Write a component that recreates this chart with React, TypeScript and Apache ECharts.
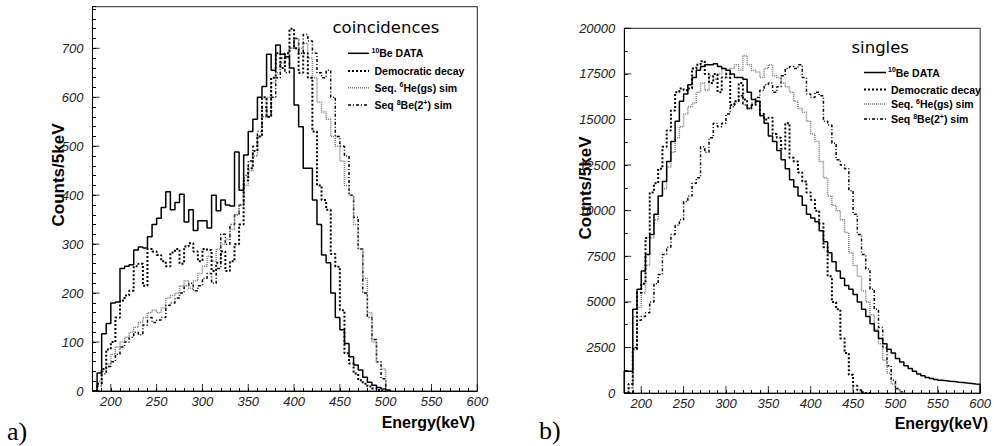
import React, { useEffect, useRef } from 'react';
import * as echarts from 'echarts';

// Histogram binning (keV)
const BIN_START = 180;
const BIN_WIDTH = 5;

// a) coincidences, bins starting at 180 keV, 5 keV wide
const coincData = [0, 37, 117, 138, 180, 182, 250, 255, 258, 288, 294, 292, 315, 340, 353, 375, 407, 370, 385, 402, 345, 370, 328, 348, 348, 333, 400, 368, 390, 380, 378, 488, 410, 482, 530, 555, 600, 622, 688, 655, 707, 688, 683, 660, 584, 540, 455, 455, 390, 340, 278, 262, 200, 150, 125, 97, 70, 53, 43, 28, 18, 12, 7, 4, 2];
const coincDemocratic = [0, 15, 45, 85, 100, 150, 185, 195, 205, 255, 260, 215, 290, 285, 278, 265, 255, 283, 290, 260, 295, 302, 285, 265, 290, 288, 245, 262, 285, 245, 265, 300, 340, 430, 455, 490, 520, 600, 560, 640, 690, 660, 690, 740, 700, 650, 690, 640, 530, 420, 390, 370, 280, 254, 165, 77, 56, 36, 22, 15, 9, 5, 2, 0];
const coincHe6 = [0, 20, 40, 55, 75, 90, 100, 110, 120, 130, 140, 150, 160, 165, 160, 170, 190, 195, 200, 215, 225, 210, 225, 240, 255, 275, 265, 290, 300, 310, 330, 360, 380, 420, 450, 480, 520, 560, 600, 630, 650, 670, 680, 700, 720, 700, 710, 680, 640, 590, 570, 555, 520, 500, 470, 420, 400, 340, 290, 230, 160, 100, 60, 45, 0];
const coincBe8 = [0, 10, 35, 50, 60, 75, 90, 100, 110, 120, 115, 135, 150, 140, 145, 150, 175, 180, 190, 200, 215, 220, 205, 215, 230, 240, 220, 250, 320, 300, 340, 360, 380, 440, 470, 500, 530, 580, 560, 600, 640, 680, 650, 700, 720, 690, 728, 715, 690, 650, 640, 655, 600, 520, 500, 480, 400, 355, 290, 200, 150, 105, 60, 25, 0];

// b) singles
const singlesData = [1200, 1200, 4600, 5700, 6700, 7600, 8700, 9800, 10800, 11600, 12700, 13800, 14900, 16000, 16400, 16900, 17300, 17700, 17900, 18000, 18000, 18050, 17900, 17800, 17700, 17500, 17300, 17300, 17200, 16500, 16100, 16000, 15200, 14800, 14100, 13800, 13300, 12800, 12300, 11700, 11300, 10800, 10300, 9800, 9600, 9400, 8900, 8300, 7700, 7200, 6700, 6300, 5900, 5700, 5400, 5000, 4600, 4200, 3800, 3400, 3000, 2700, 2400, 2200, 1900, 1700, 1500, 1350, 1200, 1050, 950, 850, 800, 750, 700, 680, 650, 630, 600, 580, 550, 530, 500, 480];
const singlesDemocratic = [0, 500, 2400, 5500, 6000, 8500, 11000, 11500, 12300, 13500, 14400, 15500, 16500, 16700, 16600, 16700, 17800, 18000, 18200, 17500, 17000, 17500, 16500, 17300, 17500, 15800, 16000, 17000, 16100, 15600, 15800, 16000, 15300, 15000, 15100, 14200, 14000, 13400, 14800, 12900, 12700, 12100, 11600, 11000, 10600, 10000, 9300, 8000, 6400, 5000, 4600, 3000, 2200, 1000, 400, 150, 50, 0];
const singlesHe6 = [0, 300, 4200, 4700, 5500, 7000, 8500, 9500, 10800, 11200, 12400, 13200, 14000, 14600, 15300, 15700, 15900, 16500, 17000, 16600, 17400, 17200, 17500, 17800, 17300, 17800, 18000, 17700, 18500, 18000, 17700, 17600, 17300, 17800, 18000, 17400, 17300, 17000, 16800, 16500, 16000, 15600, 15400, 14900, 14200, 13800, 12700, 11800, 10800, 10300, 10000, 9500, 8800, 7700, 7000, 6400, 5600, 5000, 4300, 3500, 2700, 1800, 1100, 500, 200, 50];
const singlesBe8 = [0, 0, 2500, 4000, 4200, 4400, 5000, 6000, 6500, 7600, 8000, 8700, 9200, 9500, 10500, 10800, 11500, 11800, 13500, 13200, 14000, 14800, 14600, 14800, 15300, 15700, 16000, 16300, 15800, 15600, 15900, 16200, 16600, 16900, 17000, 16500, 16800, 17400, 17800, 17900, 17800, 18000, 17300, 16400, 16200, 16500, 16300, 14900, 14700, 13700, 12800, 12500, 12300, 11100, 9800, 8700, 7600, 6800, 5700, 4600, 3600, 2500, 1500, 700, 250, 60];

// Axis ticks / labels
const X_MIN = 180;
const X_MAX = 600;
const xMajorTicks = [200, 250, 300, 350, 400, 450, 500, 550, 600];
const coincYMax = 785;
const coincYMajorTicks = [0, 100, 200, 300, 400, 500, 600, 700];
const singlesYMax = 20000;
const singlesYMajorTicks = [0, 2500, 5000, 7500, 10000, 12500, 15000, 17500, 20000];

const seriesNames = ['10Be DATA', 'Democratic decay', 'Seq. 6He(gs) sim', 'Seq 8Be(2+) sim'];

const SANS = '"Liberation Sans", Arial, sans-serif';
const LINE_STYLES: any[] = [
  { color: '#000000', width: 1.5, type: 'solid' },
  { color: '#000000', width: 2, type: [2, 2] },
  { color: '#7a7a7a', width: 1.5, type: [1, 1] },
  { color: '#000000', width: 1.5, type: [3, 2, 1, 2] },
];

function hist(values: number[]): number[][] {
  const pts: number[][] = [[BIN_START, 0]];
  values.forEach((v, i) => pts.push([BIN_START + i * BIN_WIDTH, v]));
  pts.push([BIN_START + values.length * BIN_WIDTH, 0]);
  return pts;
}

function legendItems(x0: number, x1: number, tx: number, rows: number[]): any[] {
  const out: any[] = [];
  const bold = (s: number) => ({ fontSize: s, fontWeight: 'bold', fontFamily: SANS, fill: '#000' });
  const texts = [
    { text: '{s|10}{t|Be DATA}', dx: -3 },
    { text: '{t|Democratic decay}', dx: 0 },
    { text: '{t|Seq. }{s|6}{t|He(gs) sim}', dx: 0 },
    { text: '{t|Seq }{s|8}{t|Be(2}{s|+}{t|) sim}', dx: 0 },
  ];
  rows.forEach((y, i) => {
    const ls = LINE_STYLES[i];
    out.push({
      type: 'line',
      shape: { x1: x0, y1: y, x2: x1, y2: y },
      style: { stroke: ls.color, lineWidth: ls.width, lineDash: ls.type === 'solid' ? null : ls.type },
      silent: true,
    });
    out.push({
      type: 'text',
      x: tx + texts[i].dx,
      y,
      style: {
        text: texts[i].text,
        verticalAlign: 'middle',
        align: 'left',
        rich: {
          t: { ...bold(10.5), lineHeight: 13 },
          s: { ...bold(7), lineHeight: 13, verticalAlign: 'top' },
        },
      },
      silent: true,
    });
  });
  return out;
}

export default function App() {
  const ref = useRef<HTMLDivElement>(null);

  useEffect(() => {
    if (!ref.current) return;
    const chart = echarts.init(ref.current, null, { renderer: 'svg' });

    const axisLabelStyle = {
      fontFamily: SANS,
      fontStyle: 'italic',
      fontSize: 13,
      color: '#222',
    };

    const xAxisCommon = (gridIndex: number) => ({
      type: 'value',
      gridIndex,
      min: X_MIN,
      max: X_MAX,
      interval: 10,
      axisLine: { show: true, onZero: false, lineStyle: { color: '#000', width: 1 } },
      axisTick: { show: true, inside: true, length: 3, lineStyle: { color: '#000', width: 1 } },
      axisLabel: {
        ...axisLabelStyle,
        margin: 4,
        alignMinLabel: 'center',
        alignMaxLabel: 'center',
        formatter: (v: number) => (v % 50 === 0 && v >= 200 ? String(v) : ''),
      },
      splitLine: { show: false },
    });

    const histSeries = (arr: number[][], idx: number) =>
      arr.map((vals, i) => ({
        name: seriesNames[i],
        type: 'line',
        step: 'end',
        xAxisIndex: idx,
        yAxisIndex: idx,
        data: hist(vals),
        showSymbol: false,
        symbol: 'none',
        lineStyle: { ...LINE_STYLES[i] },
        z: 10 - i,
        silent: true,
      }));

    const majorTickSeries = (idx: number, yTicks: number[]) => [
      {
        type: 'scatter',
        xAxisIndex: idx,
        yAxisIndex: idx,
        symbol: 'rect',
        symbolSize: [1, 7],
        symbolOffset: [0, -3.5],
        itemStyle: { color: '#000' },
        data: xMajorTicks.map((x) => [x, 0]),
        silent: true,
        z: 20,
      },
      {
        type: 'scatter',
        xAxisIndex: idx,
        yAxisIndex: idx,
        symbol: 'rect',
        symbolSize: [7, 1],
        symbolOffset: [3.5, 0],
        itemStyle: { color: '#000' },
        data: yTicks.map((y) => [X_MIN, y]),
        silent: true,
        z: 20,
      },
    ];

    const option: any = {
      animation: false,
      backgroundColor: '#ffffff',
      grid: [
        { left: 92.5, top: 6.7, width: 384.8, height: 384.3, show: true, borderColor: '#222', borderWidth: 1, containLabel: false },
        { left: 624.3, top: 28.3, width: 363.7, height: 364.8, show: true, borderColor: '#222', borderWidth: 1, containLabel: false },
      ],
      xAxis: [xAxisCommon(0), xAxisCommon(1)],
      yAxis: [
        {
          type: 'value',
          gridIndex: 0,
          min: 0,
          max: coincYMax,
          interval: 20,
          axisLine: { show: true, onZero: false, lineStyle: { color: '#000', width: 1 } },
          axisTick: { show: true, inside: true, length: 3.5, lineStyle: { color: '#000', width: 1 } },
          axisLabel: {
            ...axisLabelStyle,
            margin: 9,
            formatter: (v: number) => (coincYMajorTicks.indexOf(v) >= 0 ? String(v) : ''),
          },
          splitLine: { show: false },
        },
        {
          type: 'value',
          gridIndex: 1,
          min: 0,
          max: singlesYMax,
          interval: 1250,
          axisLine: { show: true, onZero: false, lineStyle: { color: '#000', width: 1 } },
          axisTick: { show: true, inside: true, length: 3.5, lineStyle: { color: '#000', width: 1 } },
          axisLabel: {
            ...axisLabelStyle,
            margin: 9,
            formatter: (v: number) => (singlesYMajorTicks.indexOf(v) >= 0 ? String(v) : ''),
          },
          splitLine: { show: false },
        },
      ],
      series: [
        ...histSeries([coincData, coincDemocratic, coincHe6, coincBe8], 0),
        ...histSeries([singlesData, singlesDemocratic, singlesHe6, singlesBe8], 1),
        ...majorTickSeries(0, coincYMajorTicks),
        ...majorTickSeries(1, singlesYMajorTicks),
      ],
      graphic: [
        // axis titles
        {
          type: 'text', x: 58, y: 175, rotation: Math.PI / 2,
          style: { text: 'Counts/5keV', align: 'center', verticalAlign: 'middle', font: `bold 17px ${SANS}`, fill: '#000' },
          silent: true,
        },
        {
          type: 'text', x: 475, y: 422,
          style: { text: 'Energy(keV)', align: 'right', verticalAlign: 'middle', font: `bold 16px ${SANS}`, fill: '#000' },
          silent: true,
        },
        {
          type: 'text', x: 585, y: 188, rotation: Math.PI / 2,
          style: { text: 'Counts/5keV', align: 'center', verticalAlign: 'middle', font: `bold 17px ${SANS}`, fill: '#000' },
          silent: true,
        },
        {
          type: 'text', x: 988, y: 423,
          style: { text: 'Energy(keV)', align: 'right', verticalAlign: 'middle', font: `bold 16px ${SANS}`, fill: '#000' },
          silent: true,
        },
        // panel tags
        {
          type: 'text', x: 7, y: 431,
          style: { text: 'a)', align: 'left', verticalAlign: 'middle', font: '26px "Liberation Serif", "Times New Roman", serif', fill: '#000' },
          silent: true,
        },
        {
          type: 'text', x: 539, y: 430,
          style: { text: 'b)', align: 'left', verticalAlign: 'middle', font: '26px "Liberation Serif", "Times New Roman", serif', fill: '#000' },
          silent: true,
        },
        // legend titles
        {
          type: 'text', x: 332.5, y: 27.6,
          style: { text: 'coincidences', align: 'left', verticalAlign: 'middle', font: '16.5px "DejaVu Sans", sans-serif', fill: '#000' },
          silent: true,
        },
        {
          type: 'text', x: 851.5, y: 47.6,
          style: { text: 'singles', align: 'left', verticalAlign: 'middle', font: '16.5px "DejaVu Sans", sans-serif', fill: '#000' },
          silent: true,
        },
        ...legendItems(348, 369, 374.5, [53.3, 71, 87.7, 105]),
        ...legendItems(864, 886, 891, [72.5, 89.5, 104, 119]),
      ],
    };

    chart.setOption(option);
    return () => chart.dispose();
  }, []);

  return (
    <div
      ref={ref}
      style={{ position: 'absolute', left: 0, top: 0, width: 994, height: 446, background: '#fff' }}
    />
  );
}
